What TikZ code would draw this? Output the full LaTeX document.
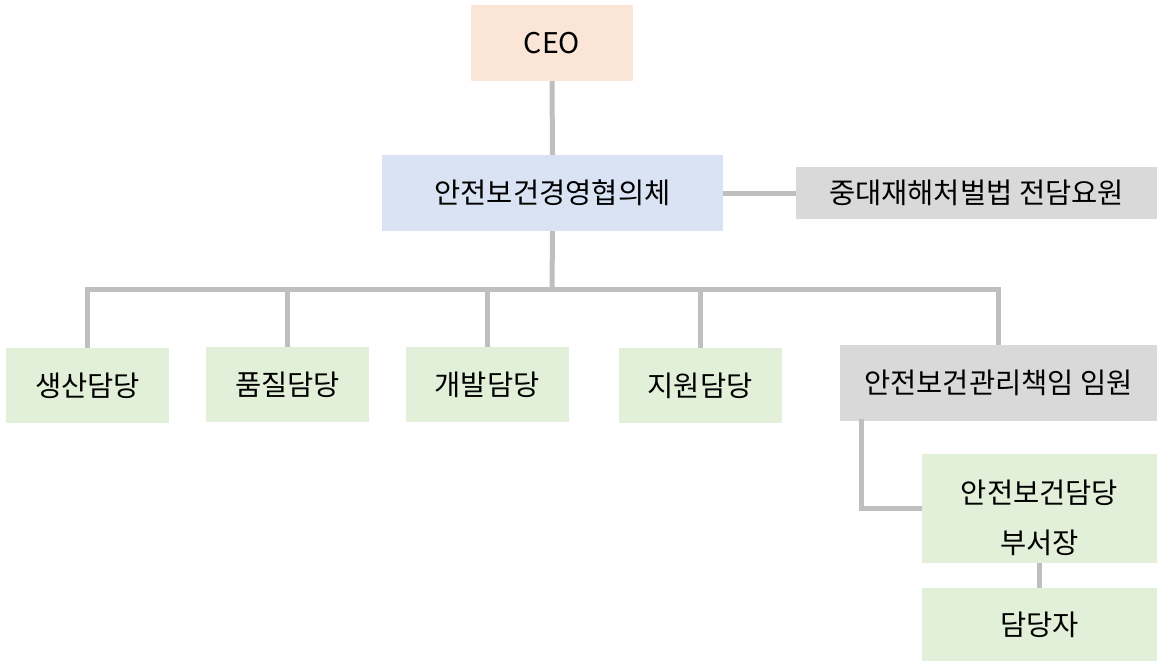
\documentclass[tikz,border=0pt]{standalone}
\usepackage{fontspec}
\setmainfont{Noto Sans CJK KR}
\usepackage{tikz}
\definecolor{ceoPeach}{HTML}{FBE5D6}
\definecolor{boardBlue}{HTML}{DAE3F3}
\definecolor{staffGray}{HTML}{D9D9D9}
\definecolor{unitGreen}{HTML}{E2F0D9}
\definecolor{linkGray}{HTML}{BFBFBF}
\tikzset{
  box/.style={rectangle, inner sep=0pt, align=center, font=\fontsize{28.5}{50}\selectfont},
  link/.style={draw=linkGray, line width=5pt}
}

\begin{document}
\begin{tikzpicture}[x=1pt, y=-1pt]
  % Page frame
  \useasboundingbox (0,0) rectangle (1157,662);

  % Top of the chart
  \node[box, fill=ceoPeach, minimum width=162pt, minimum height=76pt] (ceo) at (552,43) {CEO};
  \node[box, fill=boardBlue, minimum width=341pt, minimum height=76pt] (board) at (552.5,193) {안전보건경영협의체};
  \node[box, fill=staffGray, minimum width=361pt, minimum height=52pt] (staff) at (976.5,193) {중대재해처벌법 전담요원};

  % Departments
  \node[box, fill=unitGreen, minimum width=163pt, minimum height=75pt] (prod) at (87.5,385.5) {생산담당};
  \node[box, fill=unitGreen, minimum width=163pt, minimum height=75pt] (qual) at (287.5,384.5) {품질담당};
  \node[box, fill=unitGreen, minimum width=163pt, minimum height=75pt] (dev) at (487,384.5) {개발담당};
  \node[box, fill=unitGreen, minimum width=163pt, minimum height=75pt] (supp) at (700,385.5) {지원담당};
  \node[box, fill=staffGray, minimum width=317pt, minimum height=76pt] (officer) at (998.5,383) {안전보건관리책임 임원};

  % Safety line under the officer
  \node[box, fill=unitGreen, minimum width=235pt, minimum height=109pt,
        text height=95pt, text depth=6pt] (head) at (1039.5,508.5) {안전보건담당\\부서장};
  \node[box, fill=unitGreen, minimum width=235pt, minimum height=73pt] (worker) at (1039.5,624.5) {담당자};

  % Connectors
  \coordinate (bus) at (552,289);
  \draw[link] (ceo.south) -- (board.north);
  \draw[link] (board.east) -- (staff.west);
  \draw[link] (board.south) -- (bus);
  \foreach \dept in {prod, qual, dev, supp, officer} {
    \draw[link] (bus) -| (\dept.north);
  }
  \draw[link] ([xshift=22pt, yshift=2pt]officer.south west) |- (head.west);
  \draw[link] (head.south) -- (worker.north);
\end{tikzpicture}
\end{document}
